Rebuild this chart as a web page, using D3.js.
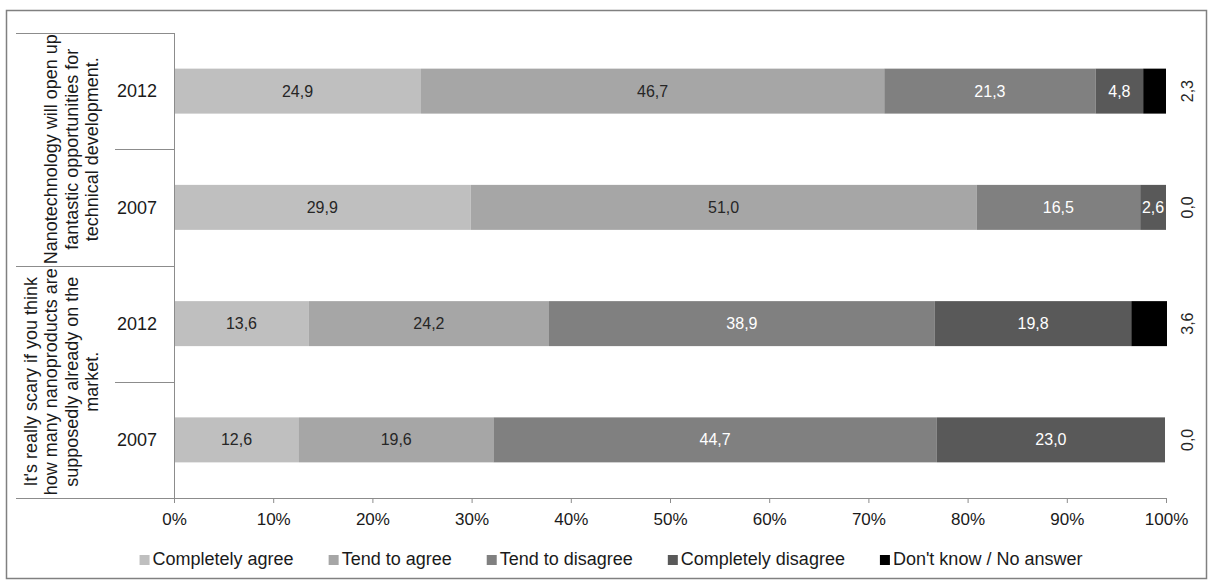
<!DOCTYPE html>
<html>
<head>
<meta charset="utf-8">
<script src="https://cdn.jsdelivr.net/npm/d3@7"></script>
<style>
  body { margin: 0; background: #fff; }
  svg { font-family: "Liberation Sans", Arial, sans-serif; }
</style>
</head>
<body>
<div id="chart"></div>
<script>

// Stacked 100% bar chart, two statements x two survey years

const width = 1208;
const height = 581;
const margin = {left: 174, right: 42, top: 33, bottom: 83};

// data
const groupLines = [
  ["Nanotechnology will open up", "fantastic opportunities for", "technical development."],
  ["It's really scary if you think", "how many nanoproducts are", "supposedly already on the", "market."]
];
const years = ["2012", "2007"];
const categories = ["Completely agree", "Tend to agree", "Tend to disagree", "Completely disagree", "Don't know / No answer"];

// one value per row: statement 1 2012, statement 1 2007, statement 2 2012, statement 2 2007
const completelyAgree    = [24.9, 29.9, 13.6, 12.6];
const tendToAgree        = [46.7, 51.0, 24.2, 19.6];
const tendToDisagree     = [21.3, 16.5, 38.9, 44.7];
const completelyDisagree = [4.8, 2.6, 19.8, 23.0];
const dontKnow           = [2.3, 0.0, 3.6, 0.0];

const tickLabels = ["0%", "10%", "20%", "30%", "40%", "50%", "60%", "70%", "80%", "90%", "100%"];

const colors = ["#bfbfbf", "#a6a6a6", "#808080", "#595959", "#000000"];
const labelColors = ["#262626", "#262626", "#ffffff", "#ffffff", "#262626"];
const lineColor = "#8c8c8c";

// build rows for the stack
const series = [completelyAgree, tendToAgree, tendToDisagree, completelyDisagree, dontKnow];
const rows = [];
groupLines.forEach((g, gi) => {
  years.forEach((y, yi) => {
    const idx = gi * years.length + yi;
    const row = {id: idx, group: gi, year: y};
    categories.forEach((c, ci) => { row[c] = series[ci][idx]; });
    rows.push(row);
  });
});

const stacked = d3.stack().keys(categories)(rows);

const svg = d3.select("#chart")
  .append("svg")
  .attr("width", width)
  .attr("height", height);

// outer frame
svg.append("rect")
  .attr("x", 6.5).attr("y", 10.5)
  .attr("width", 1200).attr("height", 568)
  .attr("fill", "none")
  .attr("stroke", "#808080")
  .attr("stroke-width", 1.5);

// scales
const xScale = d3.scaleLinear()
  .domain([0, 100])
  .range([margin.left, width - margin.right]);

const yScale = d3.scaleBand()
  .domain(rows.map(d => d.id))
  .range([margin.top, height - margin.bottom])
  .paddingInner(0.613)
  .paddingOuter(0.3065);

const step = yScale.step();
const rowTop = id => yScale(id) - yScale.paddingInner() * step / 2;

// bars
const layer = svg.selectAll(".layer")
  .data(stacked)
  .enter()
  .append("g")
    .attr("class", "layer")
    .attr("fill", (d, i) => colors[i]);

layer.selectAll("rect")
  .data(d => d)
  .enter()
  .append("rect")
    .attr("x", d => xScale(d[0]))
    .attr("y", d => yScale(d.data.id))
    .attr("width", d => xScale(d[1]) - xScale(d[0]))
    .attr("height", yScale.bandwidth());

// value labels (comma decimal)
const fmt = v => d3.format(".1f")(v).replace(".", ",");

stacked.forEach((s, si) => {
  if (si === categories.length - 1) {
    // last category labels sit outside the bar, rotated
    svg.append("g").selectAll("text")
      .data(s)
      .enter()
      .append("text")
        .attr("transform", d => `translate(${xScale(100) + 21},${yScale(d.data.id) + yScale.bandwidth() / 2}) rotate(-90)`)
        .attr("text-anchor", "middle")
        .attr("dy", "0.35em")
        .attr("font-size", "16px")
        .attr("fill", labelColors[si])
        .text(d => fmt(d[1] - d[0]));
  } else {
    svg.append("g").selectAll("text")
      .data(s)
      .enter()
      .append("text")
        .attr("x", d => (xScale(d[0]) + xScale(d[1])) / 2)
        .attr("y", d => yScale(d.data.id) + yScale.bandwidth() / 2)
        .attr("text-anchor", "middle")
        .attr("dy", "0.35em")
        .attr("font-size", "16px")
        .attr("fill", labelColors[si])
        .text(d => fmt(d[1] - d[0]));
  }
});

// x axis
const xAxis = svg.append("g")
  .attr("transform", `translate(0,${height - margin.bottom})`)
  .call(d3.axisBottom(xScale)
    .tickValues(d3.range(0, 101, 10))
    .tickFormat((d, i) => tickLabels[i])
    .tickSize(5)
    .tickSizeOuter(0)
    .tickPadding(10));
xAxis.select(".domain").remove();
xAxis.selectAll("line").attr("stroke", lineColor);
xAxis.selectAll("text")
  .attr("font-size", "17px")
  .attr("font-family", "Liberation Sans, Arial, sans-serif")
  .attr("fill", "#1a1a1a");

// axis lines
const axisG = svg.append("g").attr("stroke", lineColor).attr("stroke-width", 1);
axisG.append("line")
  .attr("x1", 16).attr("x2", xScale(100))
  .attr("y1", height - margin.bottom + 0.5).attr("y2", height - margin.bottom + 0.5);
axisG.append("line")
  .attr("x1", margin.left + 0.5).attr("x2", margin.left + 0.5)
  .attr("y1", margin.top).attr("y2", height - margin.bottom);

// row separators: long between statements, short between years
rows.forEach((r, i) => {
  const y0 = Math.round(rowTop(r.id)) + 0.5;
  axisG.append("line")
    .attr("x1", i % years.length === 0 ? 16 : 115)
    .attr("x2", margin.left)
    .attr("y1", y0).attr("y2", y0);
});

// year labels
svg.append("g").selectAll("text")
  .data(rows)
  .enter()
  .append("text")
    .attr("x", 157)
    .attr("y", d => yScale(d.id) + yScale.bandwidth() / 2)
    .attr("dy", "0.35em")
    .attr("text-anchor", "end")
    .attr("font-size", "18px")
    .attr("fill", "#1a1a1a")
    .text(d => d.year);

// statement labels, rotated
const lineGap = 20.5;
groupLines.forEach((lines, gi) => {
  const first = rows[gi * years.length].id;
  const last = rows[gi * years.length + years.length - 1].id;
  const yc = (rowTop(first) + rowTop(last) + step) / 2;
  lines.forEach((txt, li) => {
    const xb = 98 - (lines.length - 1 - li) * lineGap;
    svg.append("text")
      .attr("transform", `translate(${xb},${yc}) rotate(-90)`)
      .attr("text-anchor", "middle")
      .attr("font-size", "18px")
      .attr("fill", "#1a1a1a")
      .text(txt);
  });
});

// legend, items laid out from their text widths
const legendGap = 35;
const legend = svg.append("g")
  .attr("transform", `translate(0,565)`);
const items = categories.map((c, i) => {
  const g = legend.append("g");
  g.append("rect")
    .attr("x", 0).attr("y", -10)
    .attr("width", 10).attr("height", 10)
    .attr("fill", colors[i]);
  const t = g.append("text")
    .attr("x", 13)
    .attr("y", 0)
    .attr("font-size", "18px")
    .attr("fill", "#1a1a1a")
    .text(c);
  return {g: g, w: 13 + t.node().getComputedTextLength()};
});
const total = d3.sum(items, d => d.w) + legendGap * (items.length - 1);
let lx = 611 - total / 2;
items.forEach(it => {
  it.g.attr("transform", `translate(${lx},0)`);
  lx += it.w + legendGap;
});

</script>
</body>
</html>
